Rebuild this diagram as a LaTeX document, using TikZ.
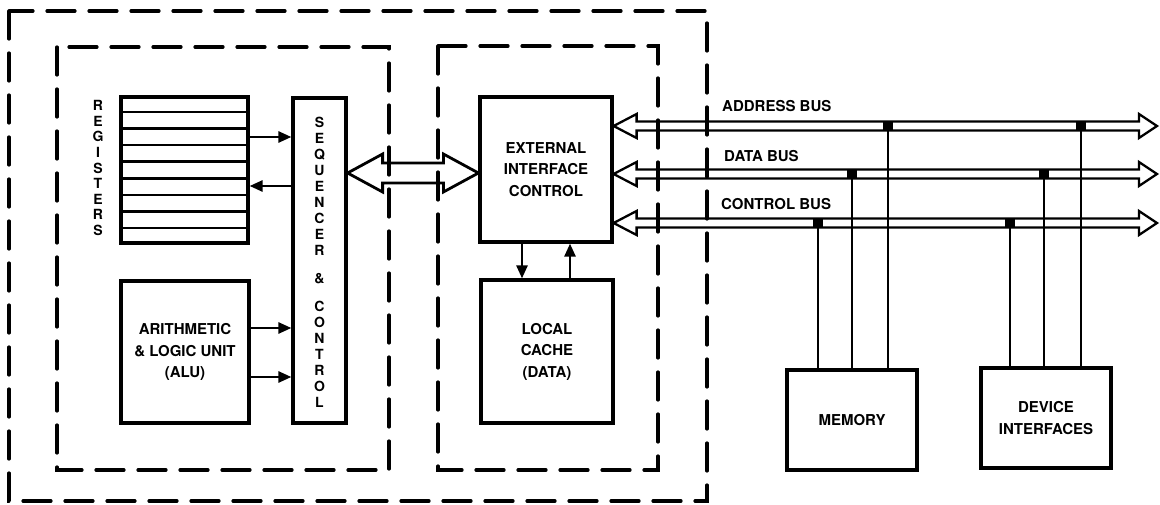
\documentclass[tikz,border=0pt]{standalone}
\usepackage{fontspec}
\setmainfont{TeX Gyre Heros}
\usepackage{tikz}
\usetikzlibrary{arrows.meta, calc, positioning}

\tikzset{
  unit/.style={draw, line width=3.2pt, inner sep=0pt, align=center,
    font=\bfseries\fontsize{15}{21.5}\selectfont},
  group/.style={line width=3.2pt, line cap=round, dash pattern=on 28pt off 14pt},
  link/.style={line width=2.6pt, -{Triangle[length=13pt,width=11pt]}},
  busline/.style={line width=2.3pt, line join=miter},
  tap/.style={fill, rectangle, minimum size=10pt, inner sep=0pt},
  stack/.style={font=\bfseries\fontsize{14}{16}\selectfont, align=center, inner sep=0pt},
  buslabel/.style={anchor=west, inner sep=0pt, font=\bfseries\fontsize{15}{18}\selectfont},
}

\begin{document}
\begin{tikzpicture}[x=1pt, y=-1pt]
\useasboundingbox (0,0) rectangle (1160,505);

% processor boundaries
\draw [group] (9,11) rectangle (707,501);
\draw [group] (57,47) rectangle (389,470);
\draw [group] (438,46) rectangle (658,470);

% units
\node [unit, minimum width=127pt, minimum height=146pt] (regs) at (184.5,170) {};
\node [unit, minimum width=53pt, minimum height=325pt] (seq) at (319.5,260.5) {};
\node [unit, minimum width=128pt, minimum height=142pt] (alu) at (185,352) {ARITHMETIC\\\& LOGIC UNIT\\(ALU)};
\node [unit, minimum width=132pt, minimum height=145pt] (eic) at (546,169.5) {EXTERNAL\\INTERFACE\\CONTROL};
\node [unit, minimum width=132pt, minimum height=143pt] (cache) at (547,351.5) {LOCAL\\CACHE\\(DATA)};
\node [unit, minimum width=130pt, minimum height=100pt] (mem) at (852,420) {MEMORY};
\node [unit, minimum width=130pt, minimum height=100pt] (dev) at (1046,418) {DEVICE\\INTERFACES};

\foreach \i in {1,...,8}
  \draw [line width=2.6pt] ($(regs.north west)!\i/9!(regs.south west)$) -- ($(regs.north east)!\i/9!(regs.south east)$);

\node [stack, font=\bfseries\fontsize{14}{15.6}\selectfont] (regLbl) at (98,168) {R\\E\\G\\I\\S\\T\\E\\R\\S};
\node [stack] (seqLbl) at ([yshift=-2pt]seq.center) {S\\E\\Q\\U\\E\\N\\C\\E\\R\\[12pt]\&\\[12pt]C\\O\\N\\T\\R\\O\\L};

% internal paths
\draw [link] (regs.east |- 0,137) -- (seq.west |- 0,137);
\draw [link] (seq.west |- 0,186) -- (regs.east |- 0,186);
\draw [link] (alu.east |- 0,328) -- (seq.west |- 0,328);
\draw [link] (alu.east |- 0,377) -- (seq.west |- 0,377);
\draw [link] (eic.south -| 522,0) -- (cache.north -| 522,0);
\draw [link] (cache.north -| 570,0) -- (eic.south -| 570,0);

% sequencer <-> interface
\coordinate (seqTip) at (seq.east |- 0,173);
\coordinate (eicTip) at (eic.west |- 0,173);
\draw [busline, line width=2.8pt] (seqTip) -- ++(35,-19) -- ++(0,9) -- ($(eicTip)+(-35,-10)$) -- ++(0,-9) -- (eicTip)
  -- ++(-35,19) -- ++(0,-9) -- ($(seqTip)+(35,10)$) -- ++(0,9) -- cycle;

% system buses
\foreach \nm/\y in {addr/126, data/174, ctrl/223} {
  \coordinate (\nm L) at (eic.east |- 0,\y);
  \coordinate (\nm R) at (1157,\y);
  \draw [busline] (\nm L) -- ++(23,-12) -- ++(0,7.5) -- ($(\nm R)+(-18,-4.5)$) -- ++(0,-7.5) -- (\nm R)
    -- ++(-18,12) -- ++(0,-7.5) -- ($(\nm L)+(23,4.5)$) -- ++(0,7.5) -- cycle;
}
\node [buslabel] (addrLbl) at (722,106) {ADDRESS BUS};
\node [buslabel] (dataLbl) at (724,156) {DATA BUS};
\node [buslabel] (ctrlLbl) at (721,204) {CONTROL BUS};

% taps
\node [tap] (m1) at (818,223) {};
\node [tap] (m2) at (852,174) {};
\node [tap] (m3) at (888,126) {};
\node [tap] (d1) at (1010,223) {};
\node [tap] (d2) at (1044,174) {};
\node [tap] (d3) at (1081,126) {};
\foreach \t in {m1,m2,m3}
  \draw [line width=2.3pt] (\t.center) -- (\t.center |- mem.north);
\foreach \t in {d1,d2,d3}
  \draw [line width=2.3pt] (\t.center) -- (\t.center |- dev.north);
\end{tikzpicture}
\end{document}
